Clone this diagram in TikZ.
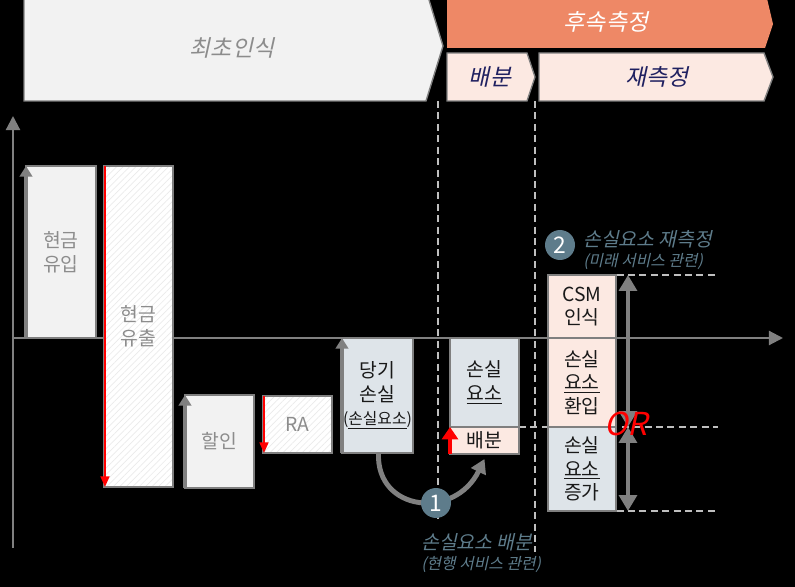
\documentclass[tikz,border=0pt]{standalone}
\usepackage{fontspec}
\setmainfont{Noto Sans CJK KR}
\newfontfamily\slantfont[FakeSlant=0.22]{Noto Sans CJK KR}
\usetikzlibrary{arrows.meta,patterns.meta}
\definecolor{linegray}{HTML}{7F7F7F}
\definecolor{boxgray}{HTML}{F2F2F2}
\definecolor{txtgray}{HTML}{8C8C8C}
\definecolor{arrgray}{HTML}{808080}
\definecolor{lossblue}{HTML}{DEE4E9}
\definecolor{pinkfill}{HTML}{FCE9E2}
\definecolor{headorange}{HTML}{EE8866}
\definecolor{slate}{HTML}{5E7C8B}
\definecolor{navy}{HTML}{1F2060}
\definecolor{dashgray}{HTML}{BFBFBF}
\begin{document}
\begin{tikzpicture}[x=0.02cm,y=-0.02cm,
    box/.style={draw=linegray, line width=0.8pt, inner sep=0pt, outer sep=0pt,
      anchor=north west, align=center, text=black!90, font=\fontsize{11}{13.5}\selectfont},
    graybox/.style={box, fill=boxgray, text=txtgray},
    hatchbox/.style={box, preaction={fill=white}, text=txtgray,
      pattern={Lines[angle=45,distance=2.6pt,line width=0.4pt]}, pattern color=gray!16},
    bluebox/.style={box, fill=lossblue},
    pinkbox/.style={box, fill=pinkfill},
    axis/.style={draw=arrgray, line width=1.2pt, -{Triangle[width=8pt,length=8pt]}},
    uparr/.style={draw=arrgray, line width=1.8pt, -{Triangle[width=7pt,length=6pt]}},
    redline/.style={draw=red, line width=1.1pt, -{Triangle[width=5pt,length=6pt]}},
    redthick/.style={draw=red, line width=2.8pt, -{Triangle[width=9pt,length=7pt]}},
    dblarr/.style={draw=arrgray, line width=2.6pt,
      {Triangle[width=10pt,length=9pt]}-{Triangle[width=10pt,length=9pt]}},
    curvearr/.style={draw=arrgray, line width=2.8pt, -{Triangle[width=9pt,length=8pt]}},
    guide/.style={draw=dashgray, line width=1pt, dash pattern=on 4pt off 2.5pt},
    stepnum/.style={circle, fill=slate, text=white, minimum size=0.6cm, inner sep=0pt,
      font=\fontsize{13}{13}\selectfont},
    note/.style={text=slate, inner sep=0pt, anchor=west, font=\slantfont\fontsize{11}{13}\selectfont},
    notesmall/.style={note, font=\slantfont\fontsize{9}{11}\selectfont},
    header/.style={font=\slantfont\fontsize{13}{15}\selectfont}]
  \fill[black] (0,0) rectangle (795,587);
  \clip (0,0) rectangle (795,587);

  % headers
  \draw[linegray, line width=0.8pt, fill=boxgray]
    (24,-10) -- (426,-10) -- (443,46) -- (426,101) -- (24,101) -- cycle;
  \node[header, text=txtgray] (initial) at (232,48) {최초인식};
  \fill[headorange] (447,-10) -- (765,-10) -- (773,24) -- (765,48) -- (447,48) -- cycle;
  \node[header, text=white] (subseq) at (606,22) {후속측정};
  \draw[linegray, line width=0.8pt, fill=pinkfill]
    (447,53) -- (527,53) -- (535,77) -- (527,101) -- (447,101) -- cycle;
  \node[header, text=navy] (allochead) at (490,77) {배분};
  \draw[linegray, line width=0.8pt, fill=pinkfill]
    (539,53) -- (764,53) -- (773,77) -- (764,101) -- (539,101) -- cycle;
  \node[header, text=navy] (remeashead) at (657,77) {재측정};

  % axes
  \coordinate (ybot) at (13,548);
  \coordinate (ytop) at (13,116);
  \coordinate (xleft) at (13,338);
  \coordinate (xright) at (783,338);
  \draw[axis] (ybot) -- (ytop);
  \draw[axis] (xleft) -- (xright);

  % guides
  \draw[guide] (438,101) -- (438,522);
  \draw[guide] (535,101) -- (535,552);
  \draw[guide] (548,275) -- (718,275);
  \draw[guide] (519,427) -- (718,427);
  \draw[guide] (548,511) -- (718,511);

  % bars
  \node[graybox, minimum width=1.4cm, minimum height=3.44cm] (inflow) at (26,166) {현금\\유입};
  \node[hatchbox, minimum width=1.38cm, minimum height=6.42cm] (outflow) at (104,166) {현금\\유출};
  \node[graybox, minimum width=1.38cm, minimum height=1.86cm] (disc) at (185,395) {할인};
  \node[hatchbox, minimum width=1.38cm, minimum height=1.14cm] (ra) at (263,396) {RA};
  \node[bluebox, minimum width=1.42cm, minimum height=2.3cm] (curloss) at (342,338)
    {당기\\손실\\{\fontsize{9}{12}\selectfont(\underline{손실요소})}};
  \node[bluebox, minimum width=1.38cm, minimum height=1.78cm] (losscomp) at (450,338) {손실\\\underline{요소}};
  \node[pinkbox, minimum width=1.38cm, minimum height=0.54cm] (alloc) at (450,427) {배분};
  \node[pinkbox, minimum width=1.36cm, minimum height=1.26cm] (csm) at (548,275) {CSM\\인식};
  \node[pinkbox, minimum width=1.36cm, minimum height=1.78cm] (reversal) at (548,338) {손실\\\underline{요소}\\환입};
  \node[bluebox, minimum width=1.36cm, minimum height=1.68cm] (increase) at (548,427) {손실\\\underline{요소}\\증가};

  % edge arrows
  \draw[uparr] (inflow.south west) -- (inflow.north west);
  \draw[redline] ([xshift=0.02cm]outflow.north west) -- ([xshift=0.02cm]outflow.south west);
  \draw[uparr] (disc.south west) -- (disc.north west);
  \draw[redline] ([xshift=0.02cm]ra.north west) -- ([xshift=0.02cm]ra.south west);
  \draw[uparr] (curloss.south west) -- (curloss.north west);
  \draw[redthick] (alloc.south west) -- (alloc.north west);
  \draw[dblarr] ([xshift=0.24cm]csm.north east) -- ([xshift=0.24cm]reversal.south east);
  \draw[dblarr] ([xshift=0.24cm]increase.north east) -- ([xshift=0.24cm]increase.south east);

  % allocation path
  \draw[curvearr] ([xshift=0.02cm]curloss.south) .. controls (376,512) and (455,520) .. ([yshift=-0.1cm]alloc.south);
  \node[stepnum] (stepone) at (436,503) {1};
  \node[note] (onetitle) at (421,542) {손실요소 배분};
  \node[notesmall] (onesub) at (421,565) {(현행 서비스 관련)};

  % remeasurement
  \node[stepnum] (steptwo) at (560,245) {2};
  \node[note] (twotitle) at (583,239) {손실요소 재측정};
  \node[notesmall] (twosub) at (583,262) {(미래 서비스 관련)};
  \node[text=red, inner sep=0pt, font=\slantfont\fontsize{18}{18}\selectfont] (orlabel) at (626,424) {OR};
\end{tikzpicture}
\end{document}
